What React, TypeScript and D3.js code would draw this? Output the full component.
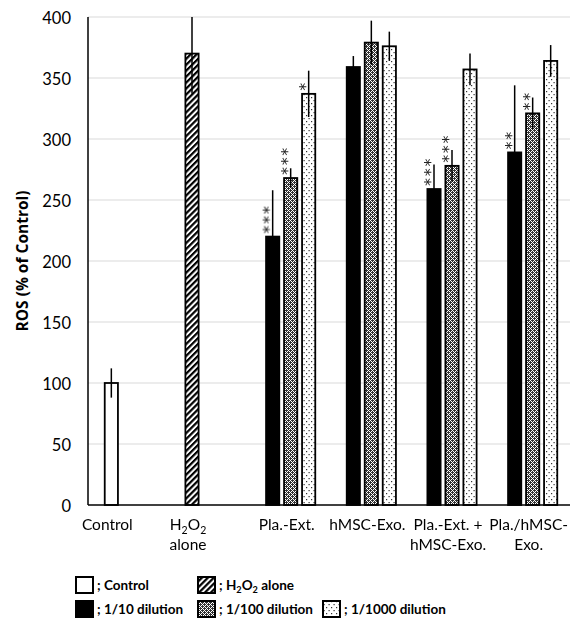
import React from "react";
import * as d3 from "d3";

// categories on the x axis (line breaks as in the figure)
const categories = ["Control", "H2O2 alone", "Pla.-Ext.", "hMSC-Exo.", "Pla.-Ext. + hMSC-Exo.", "Pla./hMSC-Exo."];
const categoryLines = [["Control"], ["H2O2", "alone"], ["Pla.-Ext."], ["hMSC-Exo."], ["Pla.-Ext. +", "hMSC-Exo."], ["Pla./hMSC-", "Exo."]];

// bar slots inside a category
const slots = ["1/10", "1/100", "1/1000"];

// ROS (% of control), mean and error
const controlMean = [100, null, null, null, null, null];
const controlErr = [12, null, null, null, null, null];
const h2o2Mean = [null, 370, null, null, null, null];
const h2o2Err = [null, 33, null, null, null, null];
const dil10Mean = [null, null, 220, 359, 259, 289];
const dil10Err = [null, null, 38, 9, 20, 55];
const dil100Mean = [null, null, 268, 379, 278, 321];
const dil100Err = [null, null, 8, 18, 13, 13];
const dil1000Mean = [null, null, 337, 376, 357, 364];
const dil1000Err = [null, null, 19, 12, 13, 13];

// significance marks
const dil10Sig = ["", "", "***", "", "***", "**"];
const dil100Sig = ["", "", "***", "", "***", "**"];
const dil1000Sig = ["", "", "*", "", "", ""];

const yTicks = [0, 50, 100, 150, 200, 250, 300, 350, 400];
const yTitle = "ROS (% of Control)";

const series = [
  { name: "; Control", mean: controlMean, err: controlErr, sig: null, slot: "1/10", fill: "#fff" },
  { name: "; H2O2 alone", mean: h2o2Mean, err: h2o2Err, sig: null, slot: "1/10", fill: "url(#hatch)" },
  { name: "; 1/10 dilution", mean: dil10Mean, err: dil10Err, sig: dil10Sig, slot: "1/10", fill: "#000" },
  { name: "; 1/100 dilution", mean: dil100Mean, err: dil100Err, sig: dil100Sig, slot: "1/100", fill: "url(#dense)" },
  { name: "; 1/1000 dilution", mean: dil1000Mean, err: dil1000Err, sig: dil1000Sig, slot: "1/1000", fill: "url(#sparse)" },
];

const FONT = "Lato, 'Open Sans', sans-serif";

// writes text, turning H2O2 into H₂O₂ with subscript tspans
const chemText = (sel, text, size) => {
  const tokens = [];
  text.split(/(H2O2)/).forEach((p) => {
    if (p === "H2O2") tokens.push(["H", 0], ["2", 1], ["O", 0], ["2", 1]);
    else if (p) tokens.push([p, 0]);
  });
  let cur = 0;
  tokens.forEach(([str, sub]) => {
    const target = sub ? size * 0.25 : 0;
    const ts = sel.append("tspan").text(str);
    if (target !== cur) ts.attr("dy", target - cur);
    if (sub) ts.attr("font-size", size * 0.68);
    cur = target;
  });
};

const RosChart = () => {
  const svgRef = React.useRef(null);
  const width = 570;
  const height = 621;

  React.useEffect(() => {
    const x = d3.scaleBand().domain(categories).range([89, 573]);
    const xs = d3.scaleBand().domain(slots).range([-27, 27]).paddingInner(1 / 6).paddingOuter(1 / 12);
    const y = d3.scaleLinear().domain([0, 400]).range([505, 17]);

    const svg = d3.select(svgRef.current);
    svg.selectAll("*").remove();

    // patterns
    const defs = svg.append("defs");
    const hatch = defs
      .append("pattern")
      .attr("id", "hatch")
      .attr("patternUnits", "userSpaceOnUse")
      .attr("width", 4.2)
      .attr("height", 4.2)
      .attr("patternTransform", "rotate(45)");
    hatch.append("rect").attr("width", 4.2).attr("height", 4.2).attr("fill", "#fff");
    hatch.append("rect").attr("width", 2.2).attr("height", 4.2).attr("fill", "#000");

    const dense = defs
      .append("pattern")
      .attr("id", "dense")
      .attr("patternUnits", "userSpaceOnUse")
      .attr("width", 4)
      .attr("height", 4);
    dense.append("rect").attr("width", 4).attr("height", 4).attr("fill", "#fff");
    [[0, 0], [1, 0], [3, 0], [0, 1], [2, 1], [1, 2], [2, 2], [3, 2], [0, 3], [2, 3]].forEach(([px, py]) =>
      dense.append("rect").attr("x", px).attr("y", py).attr("width", 1).attr("height", 1).attr("fill", "#333")
    );

    const sparse = defs
      .append("pattern")
      .attr("id", "sparse")
      .attr("patternUnits", "userSpaceOnUse")
      .attr("width", 5)
      .attr("height", 6);
    sparse.append("rect").attr("width", 5).attr("height", 6).attr("fill", "#fff");
    sparse.append("rect").attr("x", 1).attr("y", 1).attr("width", 1.2).attr("height", 1.2).attr("fill", "#333");
    sparse.append("rect").attr("x", 3.5).attr("y", 4).attr("width", 1.2).attr("height", 1.2).attr("fill", "#333");

    // grid lines
    svg
      .append("g")
      .selectAll("line")
      .data(yTicks.filter((t) => t > 0))
      .enter()
      .append("line")
      .attr("x1", 88)
      .attr("x2", width)
      .attr("y1", (d) => y(d))
      .attr("y2", (d) => y(d))
      .attr("stroke", "#d9d9d9")
      .attr("stroke-width", 1);

    // y axis labels
    const yAxis = d3.axisLeft(y).tickValues(yTicks).tickSize(0).tickPadding(17);
    const yAxisGroup = svg.append("g").attr("transform", "translate(88,0)").call(yAxis);
    yAxisGroup.select(".domain").remove();
    yAxisGroup
      .selectAll("text")
      .attr("font-family", FONT)
      .attr("font-size", 16.5)
      .attr("fill", "#000")
      .attr("dy", "0.42em");

    // bars
    const points = [];
    series.forEach((s) => {
      s.mean.forEach((v, i) => {
        if (v == null) return;
        points.push({ s, i, v, e: s.err[i], sig: s.sig ? s.sig[i] : "", x0: x(categories[i]) + x.bandwidth() / 2 + xs(s.slot) });
      });
    });
    const bw = xs.bandwidth();

    svg
      .append("g")
      .selectAll("rect")
      .data(points)
      .enter()
      .append("rect")
      .attr("x", (d) => d.x0 + 0.9)
      .attr("width", bw - 1.8)
      .attr("y", (d) => y(d.v))
      .attr("height", (d) => y(0) - y(d.v))
      .attr("fill", (d) => d.s.fill)
      .attr("stroke", "#000")
      .attr("stroke-width", 1.8);

    // error bars
    svg
      .append("g")
      .selectAll("line")
      .data(points)
      .enter()
      .append("line")
      .attr("x1", (d) => d.x0 + bw / 2)
      .attr("x2", (d) => d.x0 + bw / 2)
      .attr("y1", (d) => y(d.v - d.e))
      .attr("y2", (d) => y(Math.min(400, d.v + d.e)))
      .attr("stroke", "#000")
      .attr("stroke-width", 1.5);

    // significance stars, stacked upward: one text per bar, turned to run bottom-up
    const starSize = 16;
    svg
      .append("g")
      .attr("opacity", 0.99)
      .selectAll("text")
      .data(points.filter((p) => p.sig))
      .enter()
      .append("text")
      .attr(
        "transform",
        (d) => `translate(${d.x0 + starSize * 0.59},${y(d.v) - 7 + starSize * 0.25}) rotate(-90)`
      )
      .attr("font-family", "'DejaVu Sans', sans-serif")
      .attr("font-size", starSize)
      .attr("letter-spacing", 1.7)
      .attr("fill", "#222")
      .text((d) => d.sig);

    // axes lines
    svg.append("line").attr("x1", 88).attr("x2", 88).attr("y1", y(400)).attr("y2", y(0)).attr("stroke", "#000").attr("stroke-width", 1.5);
    svg.append("line").attr("x1", 88).attr("x2", width).attr("y1", y(0)).attr("y2", y(0)).attr("stroke", "#000").attr("stroke-width", 1.5);

    // category labels, centred on the bars they hold
    categories.forEach((c, i) => {
      const held = points.filter((p) => p.i === i);
      const cx = d3.mean(held, (p) => p.x0 + bw / 2) - 4;
      categoryLines[i].forEach((line, k) => {
        const t = svg
          .append("text")
          .attr("x", cx)
          .attr("y", 530 + k * 20)
          .attr("text-anchor", "middle")
          .attr("font-family", FONT)
          .attr("font-size", 15.5)
          .attr("fill", "#000");
        chemText(t, line, 15.5);
      });
    });

    // y title
    svg
      .append("text")
      .attr("transform", `translate(28,${(y(0) + y(400)) / 2}) rotate(-90)`)
      .attr("text-anchor", "middle")
      .attr("font-family", "'Open Sans', sans-serif")
      .attr("font-weight", "bold")
      .attr("font-size", 15.5)
      .text(yTitle);

    // legend
    const cols = [75, 197, 322];
    series.forEach((s, i) => {
      const row = i < 2 ? 0 : 1;
      const col = i < 2 ? i : i - 2;
      const lx = cols[col];
      const ly = 576 + row * 24;
      svg
        .append("rect")
        .attr("x", lx + 1)
        .attr("y", ly + 1)
        .attr("width", 17)
        .attr("height", 16)
        .attr("fill", s.fill)
        .attr("stroke", "#000")
        .attr("stroke-width", 2);
      const t = svg
        .append("text")
        .attr("x", lx + 22)
        .attr("y", ly + 14)
        .attr("font-family", FONT)
        .attr("font-weight", "bold")
        .attr("font-size", 13.5)
        .attr("fill", "#000");
      chemText(t, s.name, 13.5);
    });
  }, []);

  return (
    <svg
      ref={svgRef}
      width={width}
      height={height}
      style={{ position: "absolute", left: 0, top: 0, background: "#fff" }}
    />
  );
};

export default function App() {
  return <RosChart />;
}
